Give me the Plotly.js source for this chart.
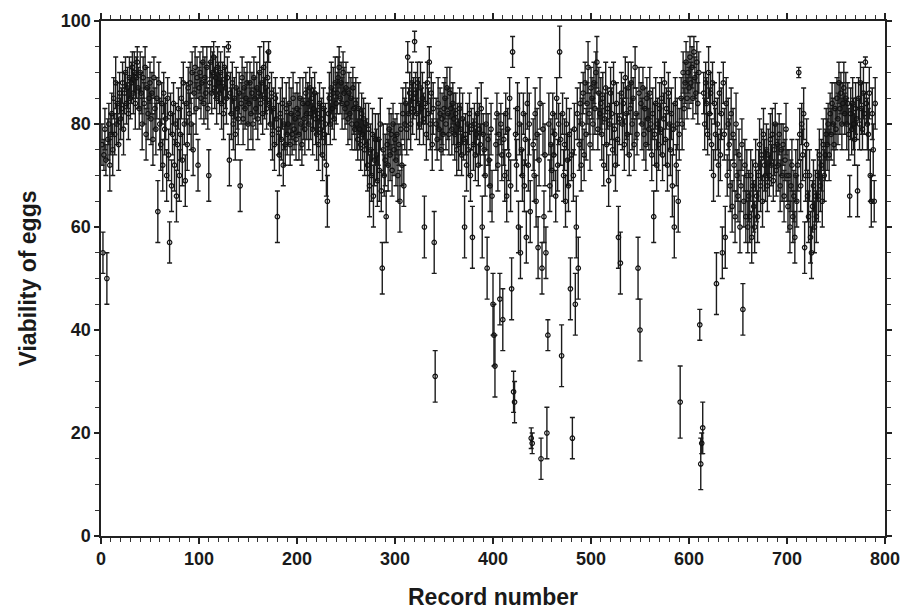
<!DOCTYPE html>
<html>
<head>
<meta charset="utf-8">
<script src="https://cdn.plot.ly/plotly-3.0.1.min.js"></script>
<style>html,body{margin:0;padding:0;background:#fff}#chart{width:903px;height:612px}</style>
</head>
<body>
<div id="chart"></div>
<script>
// Viability of eggs per record (records 1..790)
const viability = [
76,55,74,79,73,50,77,80,72,78, 82,75,85,78,88,80,84,76,86,81,
83,88,79,86,90,84,87,82,89,85, 88,91,86,90,84,89,92,87,83,90,
86,80,89,84,91,78,87,82,85,88, 81,86,77,89,83,79,85,63,88,80,
76,84,72,86,79,81,70,85,74,57, 82,68,78,84,72,80,66,76,83,70,
78,85,73,88,80,69,84,76,87,82, 88,80,90,75,86,91,83,89,72,87,
90,85,88,92,84,89,86,91,83,70, 88,92,86,90,93,87,89,85,91,88,
86,90,84,88,82,91,87,85,89,95, 73,86,82,88,80,85,78,87,83,81,
86,68,84,89,81,87,83,85,88,80, 84,88,82,86,80,89,85,83,87,81,
86,90,84,88,82,91,85,87,83,89, 94,84,80,86,78,83,76,85,81,62,
79,74,82,77,84,72,80,76,83,78, 80,84,76,82,78,85,79,81,77,83,
82,78,85,80,76,84,81,79,86,82, 84,80,87,82,85,79,83,86,81,78,
82,76,84,79,81,74,83,78,80,72, 65,82,85,80,87,83,86,81,88,84,
86,89,91,85,88,84,90,86,83,87, 84,81,86,82,85,80,87,83,79,84,
80,77,83,79,76,82,78,81,75,80, 76,72,79,68,75,70,78,66,73,77,
74,69,77,71,80,67,52,75,70,73, 62,76,72,79,74,78,71,80,75,77,
73,78,70,76,65,79,72,82,68,80, 84,79,93,82,86,80,88,83,85,96,
86,82,88,84,80,87,83,85,81,60, 84,78,88,82,92,80,86,76,83,57,
31,80,77,84,79,82,75,81,78,83, 85,80,87,82,78,86,83,79,84,81,
78,82,75,80,76,83,79,74,81,77, 60,78,72,80,75,82,70,79,58,76,
80,74,78,82,72,79,76,83,60,78, 75,70,80,52,77,73,68,79,66,45,
39,33,76,82,72,78,46,80,74,42, 77,70,82,66,79,74,85,68,48,94,
28,26,78,72,83,60,80,55,75,70, 82,68,77,58,84,72,80,63,19,18,
76,70,82,65,78,56,73,84,15,52, 79,62,74,55,20,39,80,68,76,71,
82,74,78,66,85,72,80,94,77,35, 82,70,76,65,80,73,68,78,48,74,
19,70,79,45,60,82,52,76,84,72, 80,86,74,88,78,84,91,82,76,87,
85,80,88,83,90,92,79,86,82,84, 78,85,72,81,87,76,83,69,80,86,
82,75,88,79,72,84,77,58,81,53, 86,80,84,76,89,82,78,87,74,83,
88,80,85,76,91,82,78,52,86,40, 84,80,87,78,83,76,85,81,79,86,
80,74,82,62,78,84,72,80,76,83, 79,85,74,81,88,77,83,72,86,80,
75,82,68,79,60,84,72,80,65,78, 26,85,80,90,83,88,92,85,90,87,
93,88,91,85,94,89,86,92,84,90, 41,14,18,21,86,80,88,84,78,90,
82,86,76,88,70,84,78,49,80,72, 86,74,82,55,88,78,58,84,70,80,
76,68,82,64,78,72,62,80,70,66, 74,60,68,76,44,65,72,62,70,60,
66,62,70,58,68,64,60,72,66,62, 70,76,68,74,65,78,72,70,75,68,
74,70,77,72,78,69,75,80,71,76, 72,78,68,75,70,76,66,73,79,70,
64,70,60,68,72,62,66,58,70,65, 72,90,78,68,80,74,82,56,70,76,
66,62,70,58,55,64,68,60,66,62, 70,66,74,68,72,65,76,70,74,78,
76,80,74,82,78,84,80,76,83,79, 85,81,88,83,86,80,84,87,82,85,
80,84,78,66,82,79,84,80,77,83, 81,67,85,80,88,83,79,86,82,92,
84,80,78,86,70,65,82,75,65,84
];

// Half-width of each error bar, ten records per string
const errorRows = [
"4434354454","4544544544","4454344544","4344543444","4544454544",
"5454454645","5454545454","4544545545","5454454544","4545445454",
"4443445445","4344344544","4454544541","5454545445","4544544545",
"4454544454","4543454545","2454545455","5454545454","4545454545",
"4545454545","4545454455","4545454546","5454545454","4443454545",
"4545454545","5454545454","5556555655","5556545545","5454545454",
"5454654545","4535454542","4545454556","4545354556","5545454545",
"4545454545","5454545454","6454545465","4545454564","5456555556",
"6654545456","5545454563","4455556555","4555556622","5555565545",
"5565536555","4545454556","4555555565","4556656545","5454545454",
"4545454545","5545554545","5545545656","4545454545","4545454656",
"4545454545","5555655555","5455454545","5565654565","7454444444",
"4444344444","3525454545","5454545656","4555456545","5555555655",
"5555555555","5555555555","5555555555","5454545454","5455545455",
"5555555555","5155455555","5555555555","5555555555","5454545454",
"4545454545","5454555555","4545454541","4555555545"
];
const errors = errorRows.join('').split('').map(Number);
const recordNumber = viability.map((v, i) => i + 1);

const xTickVals = [0,100,200,300,400,500,600,700,800];
const yTickVals = [0,20,40,60,80,100];

const trace = {
  type: 'scatter',
  mode: 'markers',
  x: recordNumber,
  y: viability,
  error_y: {type: 'data', array: errors, visible: true, color: '#1c1c1c', thickness: 1.4, width: 2.5},
  marker: {symbol: 'circle-open', size: 4.5, color: '#111', line: {width: 1.2, color: '#111'}},
  hoverinfo: 'x+y'
};

const fam = 'Liberation Sans, Arial, sans-serif';
const axisFont = {family: fam, size: 18, color: '#1a1a1a', weight: 'bold'};
const titleFont = {family: fam, size: 23, color: '#1a1a1a', weight: 'bold'};

const layout = {
  width: 903, height: 612,
  margin: {l: 101, r: 18, t: 21, b: 76},
  paper_bgcolor: '#fff', plot_bgcolor: '#fff',
  showlegend: false,
  xaxis: {
    range: [0, 800], tickvals: xTickVals, ticktext: xTickVals.map(String),
    showline: true, linecolor: '#222', linewidth: 1.6, mirror: 'ticks',
    ticks: 'outside', ticklen: 6, tickwidth: 1.4, tickcolor: '#222',
    minor: {dtick: 10, ticks: 'outside', ticklen: 4, tickwidth: 1, tickcolor: '#333', showgrid: false},
    showgrid: false, zeroline: false, tickfont: axisFont,
    title: {text: 'Record number', font: titleFont, standoff: 20}
  },
  yaxis: {
    range: [0, 100], tickvals: yTickVals, ticktext: yTickVals.map(String),
    showline: true, linecolor: '#222', linewidth: 1.6, mirror: 'ticks',
    ticks: 'outside', ticklen: 5, tickwidth: 1.4, tickcolor: '#222',
    minor: {dtick: 5, ticks: 'outside', ticklen: 4, tickwidth: 1, tickcolor: '#333', showgrid: false},
    showgrid: false, zeroline: false, tickfont: axisFont,
    title: {text: 'Viability of eggs', font: titleFont, standoff: 18}
  }
};

Plotly.newPlot('chart', [trace], layout, {staticPlot: true, displayModeBar: false});
</script>
</body>
</html>
